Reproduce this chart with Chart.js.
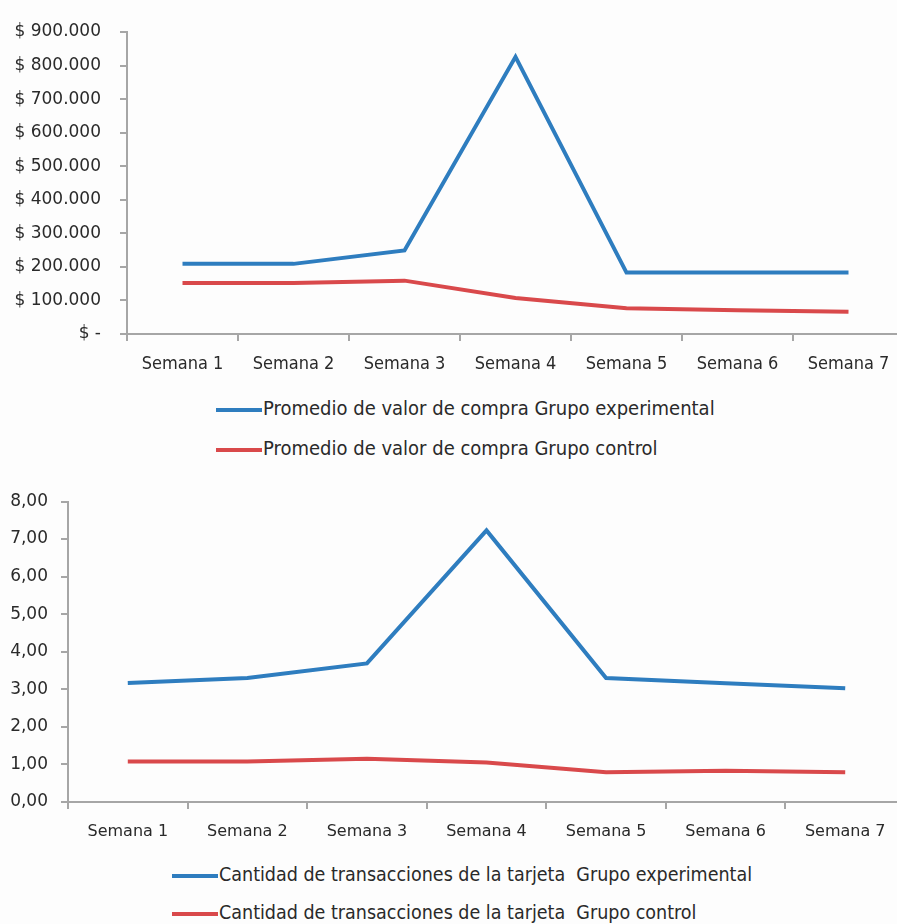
<!DOCTYPE html>
<html>
<head>
<meta charset="utf-8">
<script src="https://cdn.jsdelivr.net/npm/chart.js@4/dist/chart.umd.min.js"></script>
<style>
  html, body { margin: 0; padding: 0; background: #fdfdfd; }
  #page { position: relative; width: 897px; height: 924px; overflow: hidden; }
  .box { position: absolute; left: 0; }
  .legend { position: absolute; font-family: "DejaVu Sans Condensed", "DejaVu Sans", sans-serif; font-size: 20px; color: #2a2a2a; }
  .legend div { position: absolute; white-space: pre; height: 20px; line-height: 20px; }
  .legend span.key { display: inline-block; width: 46px; height: 4px; vertical-align: middle; margin-right: 1px; }
  #legendTrans { font-size: 19.5px; }
</style>
</head>
<body>
<div id="page">
  <div class="box" style="top:0; width:910px; height:390px;"><canvas id="compra" width="910" height="390"></canvas></div>
  <div class="legend" id="legendCompra" style="left:216px; top:398px;"></div>
  <div class="box" style="top:480px; width:910px; height:380px;"><canvas id="transacciones" width="910" height="380"></canvas></div>
  <div class="legend" id="legendTrans" style="left:172px; top:865px;"></div>
</div>
<script>
// ------------------------------------------------------------
// Datos
// ------------------------------------------------------------
const SEMANAS = ['Semana 1', 'Semana 2', 'Semana 3', 'Semana 4', 'Semana 5', 'Semana 6', 'Semana 7'];

const compraExperimental = [209000, 209000, 249000, 826000, 183000, 183000, 183000];
const compraControl      = [152000, 152000, 159000, 107000, 77000, 71000, 66000];

const transExperimental = [3.17, 3.30, 3.69, 7.23, 3.30, 3.16, 3.03];
const transControl      = [1.08, 1.08, 1.15, 1.05, 0.79, 0.83, 0.79];

const LABEL_COMPRA_EXP = 'Promedio de valor de compra Grupo experimental';
const LABEL_COMPRA_CTL = 'Promedio de valor de compra Grupo control';
const LABEL_TRANS_EXP  = 'Cantidad de transacciones de la tarjeta  Grupo experimental';
const LABEL_TRANS_CTL  = 'Cantidad de transacciones de la tarjeta  Grupo control';

const AZUL  = '#2e7dbf';
const ROJO  = '#d9494b';
const GRIS  = '#a6a6a6';
const TEXTO = '#2a2a2a';

Chart.defaults.animation = false;
Chart.defaults.devicePixelRatio = 1;

// $ 900.000 style labels, zero shown as "$ -"
function pesos(v) {
  if (v === 0) return '$ -';
  return '$ ' + v.toLocaleString('de-DE');
}

function decimalComa(v) {
  return v.toFixed(2).replace('.', ',');
}

function lineDataset(label, data, color) {
  return {
    label: label,
    data: data,
    borderColor: color,
    backgroundColor: color,
    borderWidth: 4,
    pointRadius: 0,
    tension: 0,
    borderJoinStyle: 'miter'
  };
}

function buildChart(id, cfg) {
  const ctx = document.getElementById(id).getContext('2d');
  return new Chart(ctx, {
    type: 'line',
    data: {
      labels: SEMANAS,
      datasets: [
        lineDataset(cfg.labels[0], cfg.series[0], AZUL),
        lineDataset(cfg.labels[1], cfg.series[1], ROJO)
      ]
    },
    options: {
      responsive: false,
      layout: { padding: cfg.padding },
      plugins: { legend: { display: false }, tooltip: { enabled: false } },
      scales: {
        x: {
          offset: true,
          border: { color: GRIS, width: 2 },
          grid: { display: true, offset: true, drawOnChartArea: false, drawTicks: true, tickLength: 7, color: GRIS, lineWidth: 2 },
          ticks: { color: TEXTO, font: cfg.xFont, padding: cfg.xPad, maxRotation: 0, autoSkip: false },
          afterFit: s => { s.height = cfg.xHeight; }
        },
        y: {
          min: 0, max: cfg.max,
          border: { color: GRIS, width: 2 },
          grid: { display: true, drawOnChartArea: false, drawTicks: true, tickLength: 7, color: GRIS, lineWidth: 2 },
          ticks: { stepSize: cfg.step, color: TEXTO, font: cfg.yFont, padding: cfg.yPad, callback: cfg.fmt },
          afterFit: s => { s.width = cfg.yWidth; }
        }
      }
    }
  });
}

function htmlLegend(el, chart, gap) {
  chart.data.datasets.forEach((ds, i) => {
    const row = document.createElement('div');
    row.style.top = (i * gap) + 'px';
    const key = document.createElement('span');
    key.className = 'key';
    key.style.background = ds.borderColor;
    row.appendChild(key);
    row.appendChild(document.createTextNode(ds.label));
    el.appendChild(row);
  });
}

// ------------------------------------------------------------
// Promedio de valor de compra
// ------------------------------------------------------------
const compraChart = buildChart('compra', {
  labels: [LABEL_COMPRA_EXP, LABEL_COMPRA_CTL],
  series: [compraExperimental, compraControl],
  max: 900000, step: 100000, fmt: pesos,
  padding: { top: 32, right: 6, bottom: 0, left: 0 },
  yWidth: 127, yPad: 19, xHeight: 56, xPad: 13,
  yFont: { family: 'DejaVu Sans', size: 17, lineHeight: 1 },
  xFont: { family: 'DejaVu Sans Condensed', size: 18 }
});
htmlLegend(document.getElementById('legendCompra'), compraChart, 40);

// ------------------------------------------------------------
// Cantidad de transacciones de la tarjeta
// ------------------------------------------------------------
const transChart = buildChart('transacciones', {
  labels: [LABEL_TRANS_EXP, LABEL_TRANS_CTL],
  series: [transExperimental, transControl],
  max: 8, step: 1, fmt: decimalComa,
  padding: { top: 19, right: 5, bottom: 0, left: 0 },
  yWidth: 68, yPad: 13, xHeight: 58, xPad: 13,
  yFont: { family: 'DejaVu Sans', size: 17, lineHeight: 1 },
  xFont: { family: 'DejaVu Sans', size: 16 }
});
htmlLegend(document.getElementById('legendTrans'), transChart, 38);
</script>
</body>
</html>
